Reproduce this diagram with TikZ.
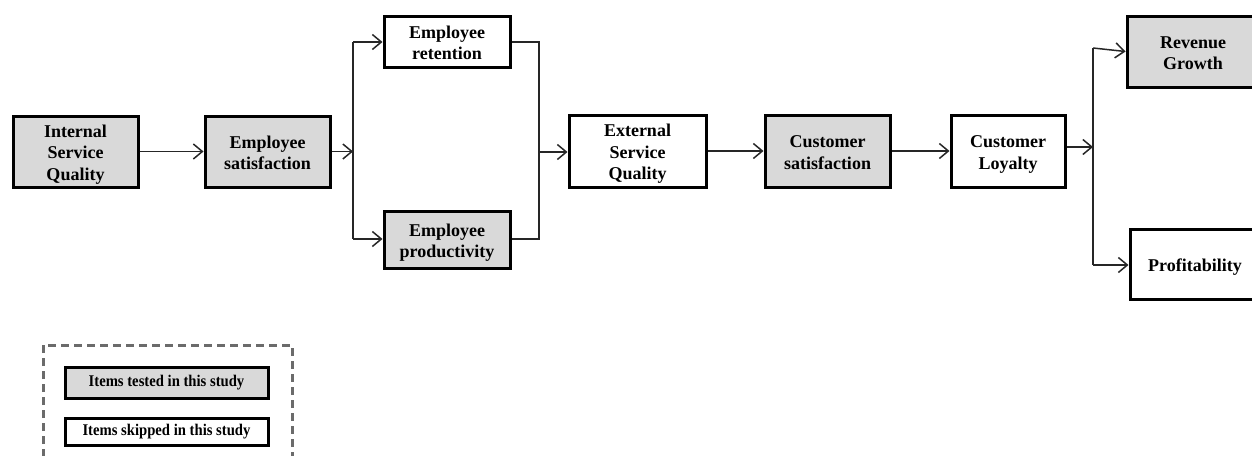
\documentclass[tikz,border=0pt]{standalone}
\usepackage{fontspec}
\setmainfont{Liberation Serif}
\newfontfamily\legendfont[FakeStretch=0.9]{Liberation Serif}
\usetikzlibrary{arrows.meta}
% centred multi-line label, set slightly low in its box
\newcommand{\boxtext}[1]{\raisebox{-3pt}[\height][\depth]{\begin{tabular}{@{}c@{}}#1\end{tabular}}}
\begin{document}
\begin{tikzpicture}[x=1pt,y=-1pt,
  box/.style={draw=black, line width=3pt, inner sep=0pt,
    font=\fontsize{18}{21.5}\selectfont\bfseries},
  tested/.style={box, fill=black!15},
  skipped/.style={box, fill=white},
  legbox/.style={draw=black, line width=3pt, inner sep=0pt,
    minimum width=203pt, font=\legendfont\fontsize{16.3}{18}\selectfont\bfseries},
  link/.style={line width=1.5pt, draw=black!85},
  arr/.style={link, -{Straight Barb[length=9pt,width=15pt,line width=1.5pt]}}]
\useasboundingbox (0,0) rectangle (1252,455);

% main chain
\node[tested,  minimum width=125pt, minimum height=71pt] (isq) at (75.5,151.5) {\boxtext{Internal\\Service\\Quality}};
\node[tested,  minimum width=125pt, minimum height=71pt] (es)  at (267.5,151.5) {\boxtext{Employee\\satisfaction}};
\node[skipped, minimum width=126pt, minimum height=51pt] (er)  at (447,41.5) {\boxtext{Employee\\retention}};
\node[tested,  minimum width=126pt, minimum height=57pt] (ep)  at (447,239.5) {\boxtext{Employee\\productivity}};
\node[skipped, minimum width=137pt, minimum height=72pt] (esq) at (637.5,151) {\boxtext{External\\Service\\Quality}};
\node[tested,  minimum width=125pt, minimum height=72pt] (cs)  at (827.5,151) {\boxtext{Customer\\satisfaction}};
\node[skipped, minimum width=114pt, minimum height=72pt] (cl)  at (1008,151) {\boxtext{Customer\\Loyalty}};
\node[tested,  minimum width=132pt, minimum height=71pt] (rg)  at (1193,51.5) {\boxtext{Revenue\\Growth}};
\node[skipped, minimum width=130pt, minimum height=70pt] (pf)  at (1195,264) {\boxtext{Profitability}};

% junction points
\coordinate (s1) at (353,151.5);
\coordinate (s1t) at (353,42);
\coordinate (s1b) at (353,239);
\coordinate (m1) at (539,152);
\coordinate (m1t) at (539,42);
\coordinate (m1b) at (539,239);
\coordinate (s2) at (1093,147);
\coordinate (s2t) at (1093,48);
\coordinate (s2b) at (1093,265);

% connectors
\draw[arr] (isq.east) -- (es.west);
\draw[arr] (es.east) -- (s1);
\draw[link] (s1t) -- (s1b);
\draw[arr] (s1t) -- (er.west |- s1t);
\draw[arr] (s1b) -- (ep.west |- s1b);
\draw[link] (er.east |- m1t) -- (m1t) -- (m1b) -- (ep.east |- m1b);
\draw[arr] (m1) -- (esq.west |- m1);
\draw[arr] (esq.east) -- (cs.west);
\draw[arr] (cs.east) -- (cl.west);
\draw[arr] (cl.east |- s2) -- (s2);
\draw[link] (s2t) -- (s2b);
\draw[arr] (s2t) -- (rg.west);
\draw[arr] (s2b) -- (pf.west |- s2b);

% legend
\draw[line width=3pt, draw=black!58, dash pattern=on 8pt off 5pt]
  (43,470) -- (43,345) -- (292,345) -- (292,470);
\node[legbox, fill=black!15, minimum height=31pt] (lt) at (166.5,382.5) {Items tested in this study};
\node[legbox, fill=white, minimum height=27pt] (ls) at (166.5,431.5) {Items skipped in this study};
\end{tikzpicture}
\end{document}
